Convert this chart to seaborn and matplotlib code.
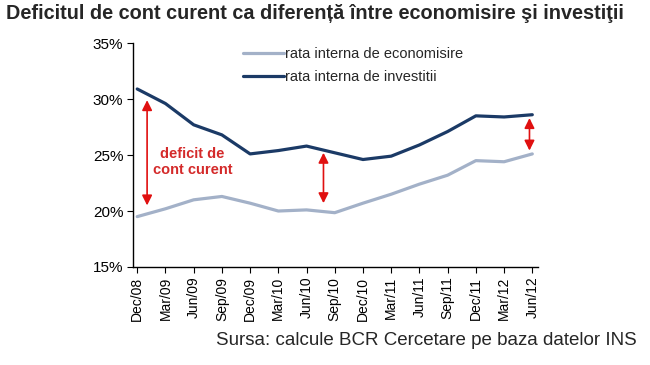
import matplotlib
matplotlib.use('Agg')
import matplotlib.pyplot as plt
import seaborn as sns
import pandas as pd
import numpy as np

# data (percent)
quarters = ['Dec/08', 'Mar/09', 'Jun/09', 'Sep/09', 'Dec/09', 'Mar/10', 'Jun/10', 'Sep/10',
            'Dec/10', 'Mar/11', 'Jun/11', 'Sep/11', 'Dec/11', 'Mar/12', 'Jun/12']
economisire = [19.5, 20.2, 21.0, 21.3, 20.7, 20.0, 20.1, 19.85, 20.7, 21.5, 22.4, 23.2, 24.5, 24.4, 25.1]
investitii = [30.9, 29.6, 27.7, 26.8, 25.1, 25.4, 25.8, 25.2, 24.6, 24.9, 25.9, 27.1, 28.5, 28.4, 28.6]
arrow_at = ['Dec/08', 'Jun/10', 'Jun/12']

lbl_econ = 'rata interna de economisire'
lbl_inv = 'rata interna de investitii'

df = pd.DataFrame({'q': np.arange(len(quarters)), lbl_econ: economisire, lbl_inv: investitii})
df = df.melt(id_vars='q', var_name='serie', value_name='val')

sns.set_style('ticks')
plt.rcParams['font.family'] = ['Liberation Sans', 'DejaVu Sans']

fig = plt.figure(figsize=(6.5, 3.65), dpi=100)
ax = fig.add_axes([0.2046, 0.2685, 0.623, 0.6135])

sns.lineplot(data=df, x='q', y='val', hue='serie', hue_order=[lbl_econ, lbl_inv],
             palette=['#a3b1c8', '#1b3a66'], linewidth=2.3, ax=ax)
for ln in ax.get_lines():
    ln.set_solid_joinstyle('round')
    ln.set_solid_capstyle('round')

ax.set_ylim(15, 35)
ax.set_xlim(-0.15, 14.2)
ax.set_yticks([15, 20, 25, 30, 35])
ax.set_yticklabels(['15%', '20%', '25%', '30%', '35%'], fontsize=11)
ax.set_xticks(np.arange(len(quarters)))
ax.set_xticklabels(quarters, rotation=90, fontsize=10)
ax.set_xlabel('')
ax.set_ylabel('')
sns.despine(ax=ax)
for s in ['left', 'bottom']:
    ax.spines[s].set_color('black')
    ax.spines[s].set_linewidth(1.0)
ax.tick_params(axis='both', direction='out', length=4, width=0.8, colors='black', pad=3)

leg = ax.legend(loc='upper left', bbox_to_anchor=(0.24, 1.04), frameon=False, fontsize=10.5,
                handlelength=2.8, handletextpad=0.05, labelspacing=0.6)
for h in leg.get_lines():
    h.set_linewidth(2.3)

# red double arrows for the gap
arrow_x = {'Dec/08': 0.35, 'Jun/10': 0.6, 'Jun/12': -0.1}
arrow_gap = {'Dec/08': 1.0, 'Jun/10': 0.6, 'Jun/12': 0.3}
for name in arrow_at:
    i = quarters.index(name)
    x = i + arrow_x[name]
    g = arrow_gap[name]
    ax.annotate('', xy=(x, economisire[i] + g), xytext=(x, investitii[i] - g),
                arrowprops=dict(arrowstyle='<|-|>', color='#e01010', lw=1.2,
                                mutation_scale=15, shrinkA=0, shrinkB=0))

ax.text(1.95, 24.4, 'deficit de\ncont curent', color='#d42a2a', fontsize=10.5, fontweight='bold',
        ha='center', va='center', linespacing=1.15)

fig.text(0.009, 0.962, 'Deficitul de cont curent ca diferență între economisire şi investiţii',
         fontsize=14.3, fontweight='bold', ha='left', va='center')
fig.text(0.98, 0.068, 'Sursa: calcule BCR Cercetare pe baza datelor INS',
         fontsize=13.5, ha='right', va='center')

fig.savefig('out.png', dpi=100)
